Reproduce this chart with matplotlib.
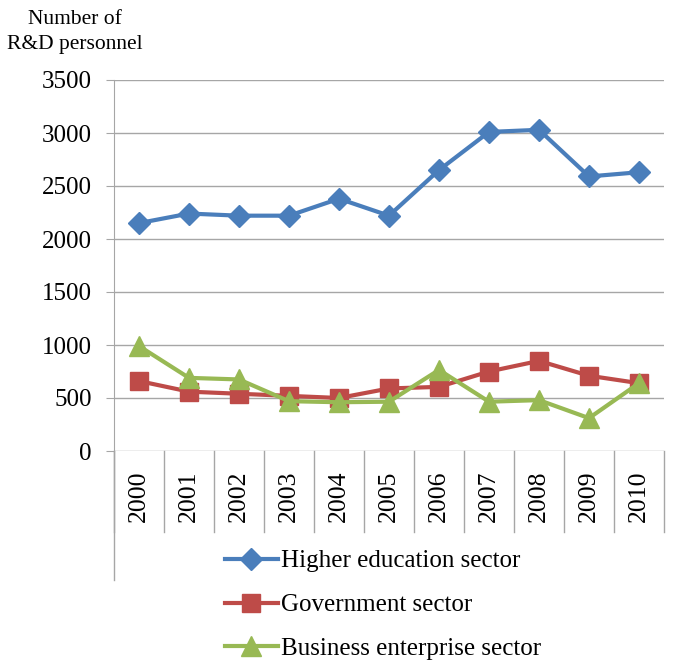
import numpy as np
import matplotlib
matplotlib.use("Agg")
import matplotlib.pyplot as plt
import matplotlib.transforms as mtransforms
from matplotlib.lines import Line2D

plt.rcParams['font.family'] = ['Liberation Serif', 'DejaVu Serif']

# data
years = ['2000', '2001', '2002', '2003', '2004', '2005',
         '2006', '2007', '2008', '2009', '2010']
higherEducation = [2150, 2240, 2220, 2220, 2380, 2220, 2650, 3010, 3030, 2590, 2630]
government = [660, 560, 540, 520, 500, 590, 605, 750, 850, 710, 640]
business = [990, 690, 675, 470, 460, 465, 765, 465, 480, 310, 640]
yTicks = [0, 500, 1000, 1500, 2000, 2500, 3000, 3500]

W, H = 674, 660
fig = plt.figure(figsize=(W / 100, H / 100), dpi=100, facecolor='w')

# axes box in pixel coords of the reference
left, right, top, bottom = 114, 664, 80, 451
ax = fig.add_axes([left / W, 1 - bottom / H, (right - left) / W, (bottom - top) / H])

x = np.arange(len(years))
gridColor = '#a6a6a6'

ax.plot(x, higherEducation, color='#4a7ebb', lw=3, marker='D', ms=11,
        label='Higher education sector', zorder=3)
ax.plot(x, government, color='#be4b48', lw=3, marker='s', ms=13,
        label='Government sector', zorder=3)
ax.plot(x, business, color='#98b954', lw=3, marker='^', ms=14,
        label='Business enterprise sector', zorder=4)

ax.set_xlim(-0.5, len(years) - 0.5)
ax.set_ylim(0, 3500)
ax.set_yticks(yTicks)
ax.set_yticklabels([str(v) for v in yTicks], fontsize=18)
ax.set_xticks([])
ax.yaxis.grid(True, color=gridColor, lw=1.0)
ax.set_axisbelow(True)
for side in ['top', 'right', 'bottom']:
    ax.spines[side].set_visible(False)
ax.spines['left'].set_color(gridColor)
ax.tick_params(axis='y', direction='out', length=6, color=gridColor, pad=10)

# category separators and labels below the axis
trans = mtransforms.blended_transform_factory(ax.transData, ax.transAxes)
span = bottom - top
sepDepth = (532 - bottom) / span
for k in range(len(years) + 1):
    ax.add_line(Line2D([k - 0.5, k - 0.5], [0, -sepDepth], transform=trans,
                       color=gridColor, lw=1.0, clip_on=False))
for k, yr in enumerate(years):
    ax.text(k, -(471 - bottom) / span, yr, transform=trans,
            rotation=90, ha='center', va='top', fontsize=18.5)
# left axis line runs down past the labels
axisDepth = (580 - bottom) / span
ax.add_line(Line2D([-0.5, -0.5], [0, -axisDepth], transform=trans,
                   color=gridColor, lw=1.0, clip_on=False))

fig.text(75 / W, 1 - 32 / H, 'Number of\nR&D personnel', ha='center', va='center',
         fontsize=15.5, linespacing=1.5)

fig.legend(loc='upper left', bbox_to_anchor=(225 / W, 1 - 550 / H), frameon=False,
           fontsize=18, handlelength=2.1, handletextpad=0.15, labelspacing=0.85,
           borderpad=0, borderaxespad=0)

fig.savefig('out.png', dpi=100, facecolor='w')
